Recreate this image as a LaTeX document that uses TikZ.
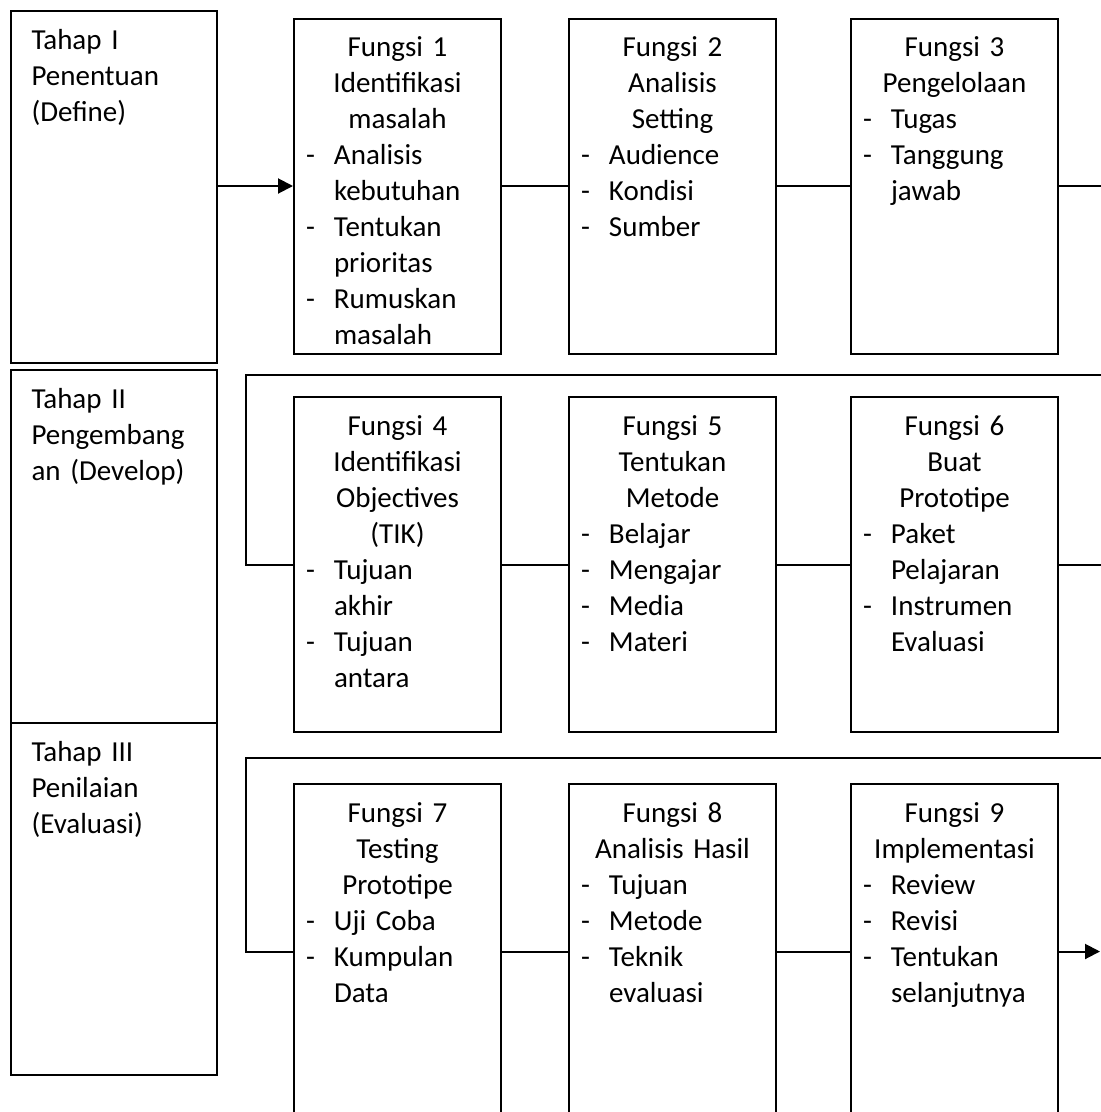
\documentclass[tikz,border=0pt]{standalone}
\usepackage{fontspec}
\setmainfont{Carlito}
\usetikzlibrary{arrows.meta}
\setlength{\parindent}{0pt}
\newcommand{\head}[1]{{\centering #1\par}}
\newcommand{\itm}[1]{{\raggedright\hangindent=40pt\hangafter=1\noindent\makebox[40pt][l]{\hspace{12pt}-}#1\par}}

\begin{document}
\begin{tikzpicture}[x=1pt,y=-1pt,line width=2pt,
    font=\fontsize{29}{36}\selectfont,
    tahap/.style={draw,rectangle,anchor=north west,align=left,inner xsep=21pt,inner ysep=0pt,
      text width=164.5pt,text height=38pt,text depth=#1},
    fungsi/.style={draw,rectangle,anchor=north west,align=left,inner sep=0pt,
      text width=207pt,text height=38pt,text depth=297pt},
    arr/.style={-{Triangle[length=15pt,width=15pt]}}]

  \useasboundingbox (0,0) rectangle (1101,1112);

  \node[tahap=314pt] (t1) at (9.5,10) {Tahap I\\Penentuan\\(Define)};
  \node[tahap=315pt] (t2) at (9.5,369) {Tahap II\\Pengembang\\an (Develop)};
  \node[tahap=314pt] (t3) at (9.5,722) {Tahap III\\Penilaian\\(Evaluasi)};

  \node[fungsi] (f1) at (293,17.5) {\head{Fungsi 1\\Identifikasi\\masalah}%
    \itm{Analisis\newline kebutuhan}\itm{Tentukan\newline prioritas}\itm{Rumuskan\newline masalah}};
  \node[fungsi] (f2) at (568,17.5) {\head{Fungsi 2\\Analisis\\Setting}%
    \itm{Audience}\itm{Kondisi}\itm{Sumber}};
  \node[fungsi] (f3) at (850,17.5) {\head{Fungsi 3\\Pengelolaan}%
    \itm{Tugas}\itm{Tanggung\newline jawab}};

  \node[fungsi] (f4) at (293,396) {\head{Fungsi 4\\Identifikasi\\Objectives\\(TIK)}%
    \itm{Tujuan\newline akhir}\itm{Tujuan\newline antara}};
  \node[fungsi] (f5) at (568,396) {\head{Fungsi 5\\Tentukan\\Metode}%
    \itm{Belajar}\itm{Mengajar}\itm{Media}\itm{Materi}};
  \node[fungsi] (f6) at (850,396) {\head{Fungsi 6\\Buat\\Prototipe}%
    \itm{Paket\newline Pelajaran}\itm{Instrumen\newline Evaluasi}};

  \node[fungsi] (f7) at (293,783) {\head{Fungsi 7\\Testing\\Prototipe}%
    \itm{Uji Coba}\itm{Kumpulan\newline Data}};
  \node[fungsi] (f8) at (568,783) {\head{Fungsi 8\\Analisis Hasil}%
    \itm{Tujuan}\itm{Metode}\itm{Teknik\newline evaluasi}};
  \node[fungsi] (f9) at (850,783) {\head{Fungsi 9\\Implementasi}%
    \itm{Review}\itm{Revisi}\itm{Tentukan\newline selanjutnya}};

  \coordinate (edge) at (1101,0);
  \coordinate (tip) at (1100,0);
  \coordinate (b1) at (1101,375);
  \coordinate (c1) at (245.5,375);
  \coordinate (b2) at (1101,758);
  \coordinate (c2) at (245.5,758);

  \draw[arr] (f1.west -| t1.east) -- (f1.west);
  \draw (f1) -- (f2);
  \draw (f2) -- (f3);
  \draw (f3.east) -- (f3.east -| edge);

  \draw (b1) -- (c1) |- (f4.west);
  \draw (f4) -- (f5);
  \draw (f5) -- (f6);
  \draw (f6.east) -- (f6.east -| edge);

  \draw (b2) -- (c2) |- (f7.west);
  \draw (f7) -- (f8);
  \draw (f8) -- (f9);
  \draw[arr] (f9.east) -- (f9.east -| tip);
\end{tikzpicture}
\end{document}
